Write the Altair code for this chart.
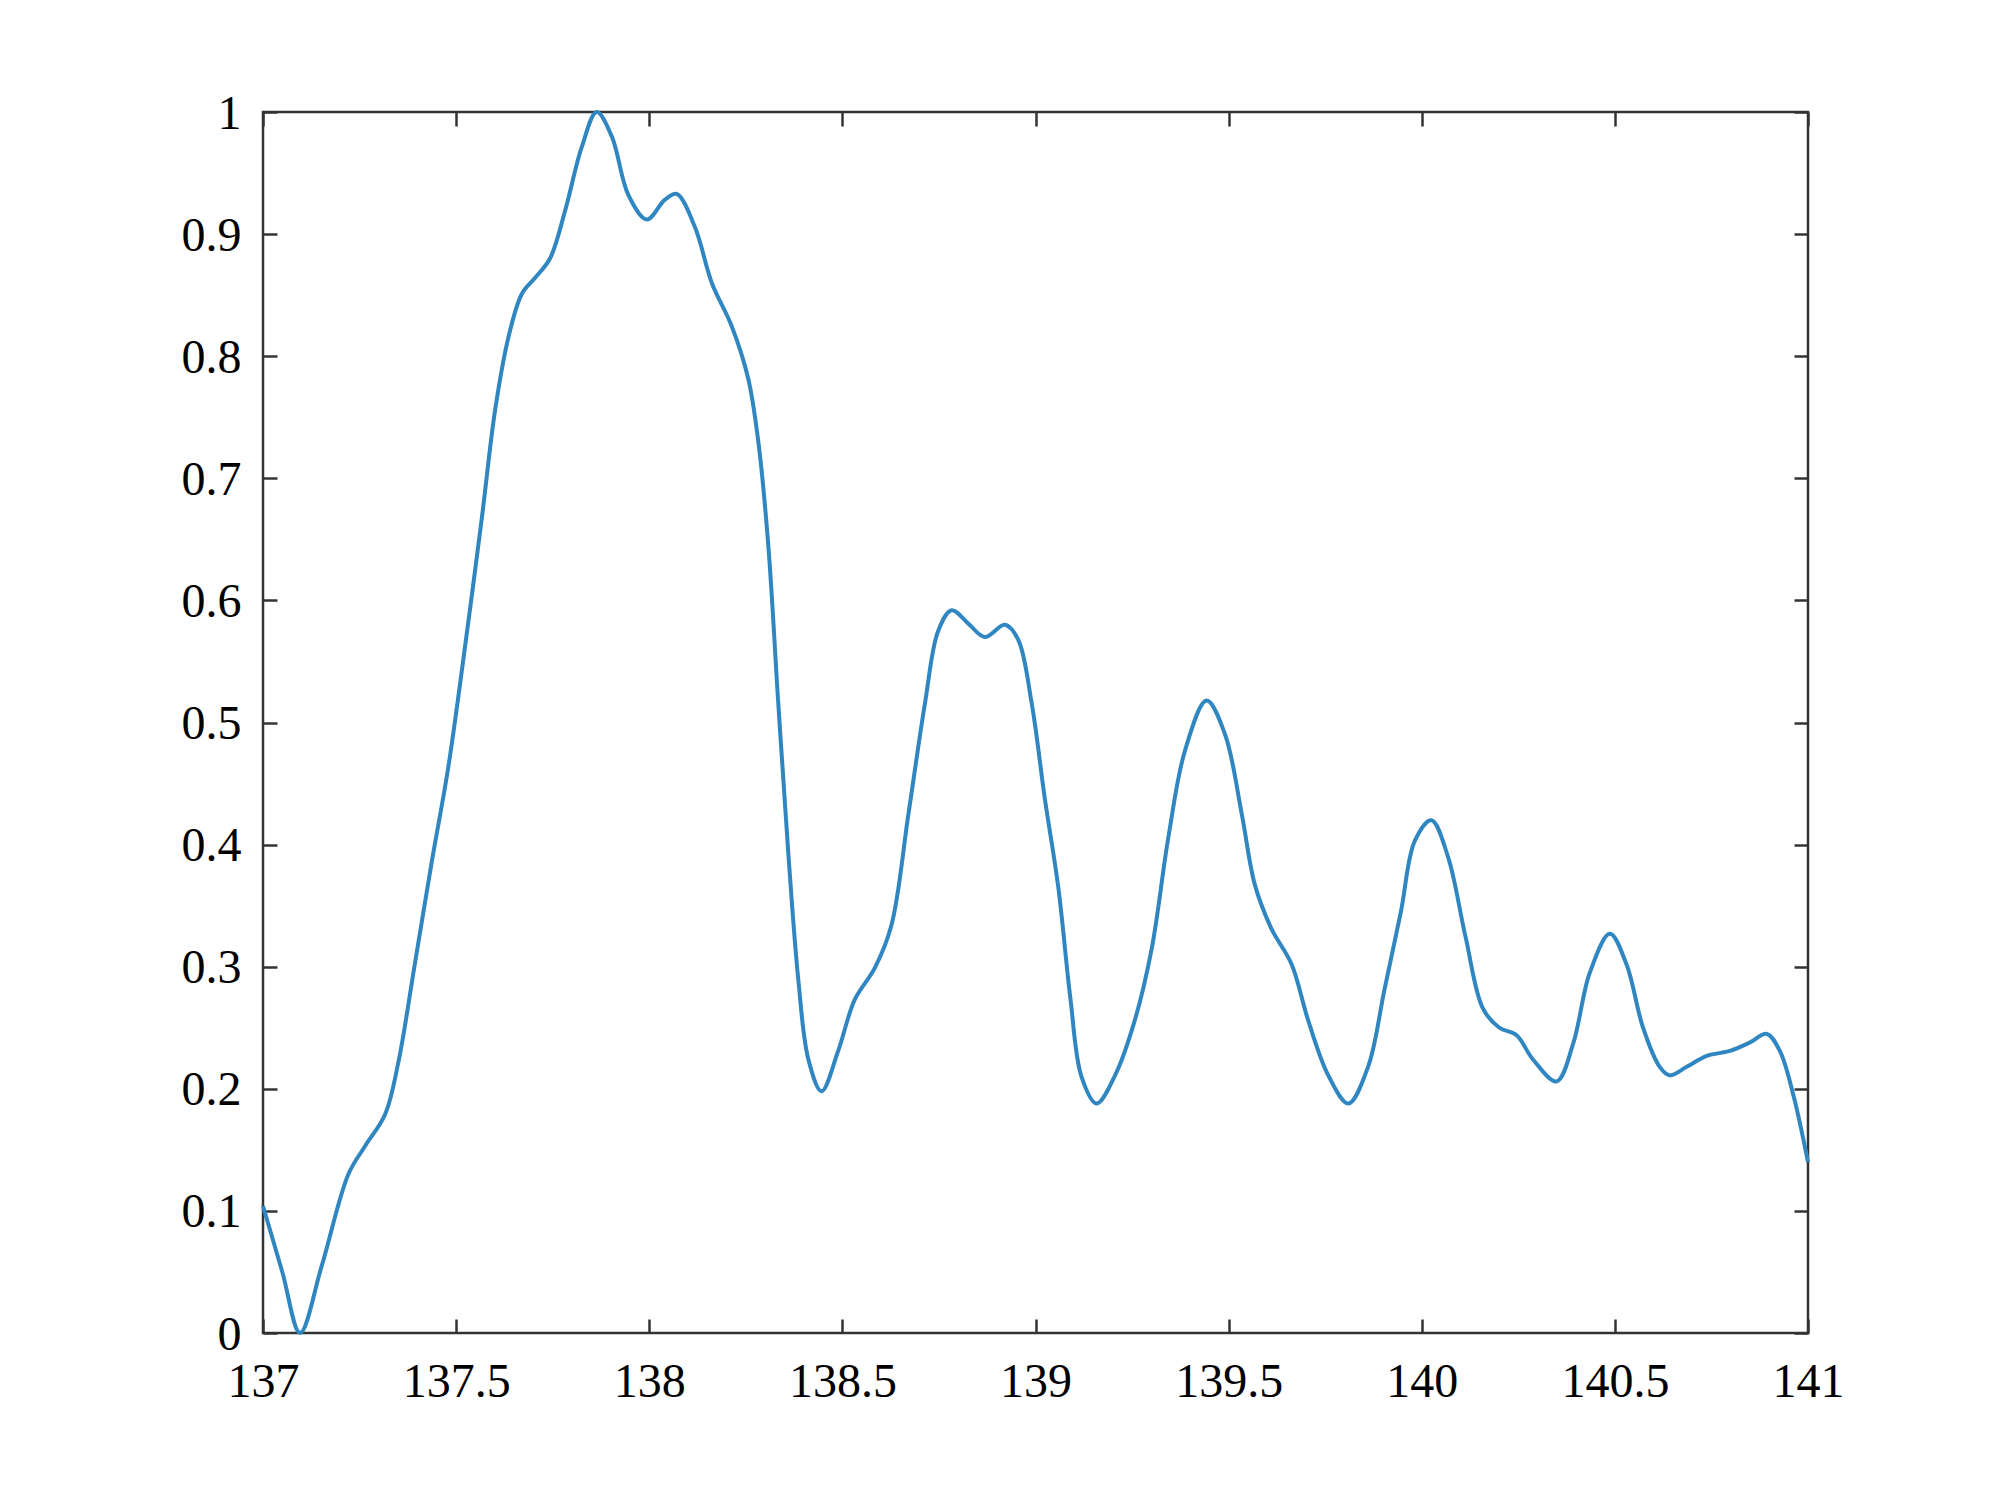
import altair as alt
import pandas as pd

x_vals = [137.000, 137.050, 137.096, 137.152, 137.221, 137.264, 137.316, 137.350, 137.393,
          137.437, 137.480, 137.523, 137.566, 137.601, 137.635, 137.670, 137.704, 137.743,
          137.782, 137.825, 137.864, 137.903, 137.946, 137.994, 138.040, 138.071, 138.118,
          138.162, 138.213, 138.256, 138.282, 138.308, 138.334, 138.360, 138.386, 138.412,
          138.446, 138.489, 138.532, 138.584, 138.627, 138.671, 138.714, 138.748, 138.783,
          138.826, 138.869, 138.921, 138.955, 138.990, 139.024, 139.059, 139.090, 139.119,
          139.158, 139.206, 139.257, 139.301, 139.344, 139.387, 139.443, 139.491, 139.534,
          139.568, 139.611, 139.663, 139.706, 139.758, 139.810, 139.861, 139.904, 139.946,
          139.982, 140.025, 140.068, 140.113, 140.158, 140.201, 140.245, 140.288, 140.349,
          140.392, 140.435, 140.487, 140.530, 140.573, 140.616, 140.642, 140.686, 140.738,
          140.798, 140.850, 140.893, 140.927, 140.962, 141.000]
y_vals = [0.104, 0.050, 0.000, 0.055, 0.130, 0.153, 0.179, 0.221, 0.302,
          0.386, 0.464, 0.562, 0.666, 0.756, 0.815, 0.851, 0.864, 0.880,
          0.919, 0.971, 1.000, 0.980, 0.932, 0.912, 0.928, 0.933, 0.906,
          0.860, 0.825, 0.782, 0.731, 0.646, 0.516, 0.393, 0.289, 0.224,
          0.198, 0.231, 0.273, 0.299, 0.334, 0.425, 0.516, 0.575, 0.592,
          0.581, 0.570, 0.580, 0.568, 0.516, 0.438, 0.365, 0.275, 0.210,
          0.188, 0.211, 0.256, 0.315, 0.406, 0.477, 0.518, 0.490, 0.425,
          0.367, 0.331, 0.302, 0.256, 0.211, 0.188, 0.218, 0.282, 0.345,
          0.403, 0.420, 0.390, 0.325, 0.266, 0.250, 0.244, 0.224, 0.206,
          0.237, 0.295, 0.327, 0.302, 0.250, 0.218, 0.211, 0.218, 0.227,
          0.231, 0.238, 0.245, 0.231, 0.195, 0.140]

x_ticks = [137, 137.5, 138, 138.5, 139, 139.5, 140, 140.5, 141]
y_ticks = [0, 0.1, 0.2, 0.3, 0.4, 0.5, 0.6, 0.7, 0.8, 0.9, 1]

df = pd.DataFrame({"x": x_vals, "y": y_vals})

FONT = "Liberation Serif"
FS = 48
TICK = 14
TICKC = "#333333"

common_axis = dict(domain=False, grid=False, tickSize=TICK, offset=-TICK,
                   tickColor=TICKC, tickWidth=2.5, title=None)

x_scale = alt.Scale(domain=[137, 141], nice=False, zero=False)
y_scale = alt.Scale(domain=[0, 1], nice=False, zero=False)

line = alt.Chart(df).mark_line(color="#2f86c0", strokeWidth=4, interpolate="catmull-rom").encode(
    x=alt.X("x:Q", scale=x_scale,
            axis=alt.Axis(orient="bottom", values=x_ticks, format="~g",
                          labelFont=FONT, labelFontSize=FS, labelColor="#000000",
                          labelBaseline="alphabetic", labelPadding=63,
                          labelFlush=False, labelOverlap=False, **common_axis)),
    y=alt.Y("y:Q", scale=y_scale,
            axis=alt.Axis(orient="left", values=y_ticks, format="~g",
                          labelFont=FONT, labelFontSize=FS, labelColor="#000000",
                          labelBaseline="alphabetic", labelOffset=16, labelPadding=22,
                          labelFlush=False, labelOverlap=False, **common_axis)),
)

frame_ticks = alt.Chart(df).mark_line(opacity=0).encode(
    x=alt.X("x:Q", scale=x_scale,
            axis=alt.Axis(orient="top", values=x_ticks, labels=False, **common_axis)),
    y=alt.Y("y:Q", scale=y_scale,
            axis=alt.Axis(orient="right", values=y_ticks, labels=False, **common_axis)),
)

chart = alt.layer(line, frame_ticks).resolve_axis(
    x="independent", y="independent"
).properties(
    width=1545, height=1221,
    autosize=alt.AutoSizeParams(type="none"),
    padding={"left": 255, "top": 104, "right": 150, "bottom": 140},
    background="#ffffff",
).configure_view(
    stroke="#333333", strokeWidth=2.5, fill="#ffffff"
)

chart.save("out.html", embed_options={"renderer": "svg", "actions": False})
